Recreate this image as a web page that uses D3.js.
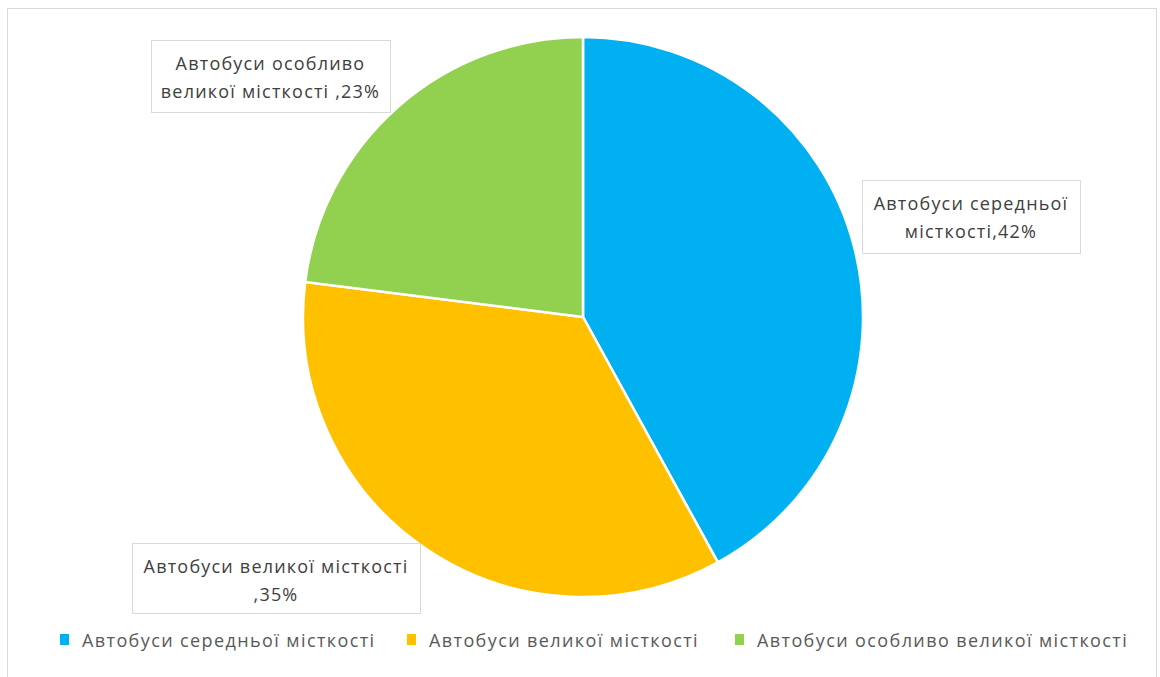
<!DOCTYPE html>
<html><head><meta charset="utf-8">
<script src="https://cdn.jsdelivr.net/npm/d3@7"></script>
<style>body{margin:0;background:#fff;} svg{display:block;}</style>
</head><body>
<svg id="c" width="1160" height="677"></svg>
<script>
const categories = ["Автобуси середньої місткості", "Автобуси великої місткості", "Автобуси особливо великої місткості"];
const values = [42, 35, 23];
const colors = ["#00B0F0", "#FFC000", "#92D050"];
const labelLines = [["Автобуси середньої", "місткості,42%"], ["Автобуси великої місткості", ",35%"], ["Автобуси особливо", "великої місткості ,23%"]];

const svg = d3.select("#c");
const font = "'Open Sans', 'DejaVu Sans', sans-serif";
// frame
svg.append("path").attr("d","M7.5,700 V8.5 H1156.5 V700").attr("fill","none").attr("stroke","#d9d9d9").attr("stroke-width",1);

const cx = 583, cy = 317, r = 280;
const pie = d3.pie().sort(null).value(d=>d)(values);
const arc = d3.arc().innerRadius(0).outerRadius(r);
const g = svg.append("g").attr("transform",`translate(${cx},${cy})`);
g.selectAll("path").data(pie).join("path").attr("d",arc).attr("fill",(d,i)=>colors[i]).attr("stroke","#fff").attr("stroke-width",2.5);

// label boxes
const boxes = [{x:862,y:180,w:218,h:73},{x:132,y:543,w:288,h:70},{x:151,y:40,w:239,h:72}];
boxes.forEach((b,i)=>{
  const lg = svg.append("g");
  lg.append("rect").attr("x",b.x+0.5).attr("y",b.y+0.5).attr("width",b.w).attr("height",b.h).attr("fill","#fff").attr("stroke","#d9d9d9");
  labelLines[i].forEach((t,j)=>{
    lg.append("text").attr("x",b.x+b.w/2).attr("y",b.y + 30 + j*28).attr("text-anchor","middle")
      .attr("font-family",font).attr("font-size",18).attr("letter-spacing",1.2).attr("fill","#404040").text(t);
  });
});

// legend
const legX = [60, 407, 735];
const legend = svg.append("g");
categories.forEach((c,i)=>{
  legend.append("rect").attr("x",legX[i]).attr("y",634).attr("width",9).attr("height",11).attr("fill",colors[i]);
  legend.append("text").attr("x",legX[i]+22).attr("y",647).attr("font-family",font).attr("font-size",18).attr("letter-spacing",1.4).attr("fill","#595959").text(c);
});
</script>
</body></html>
